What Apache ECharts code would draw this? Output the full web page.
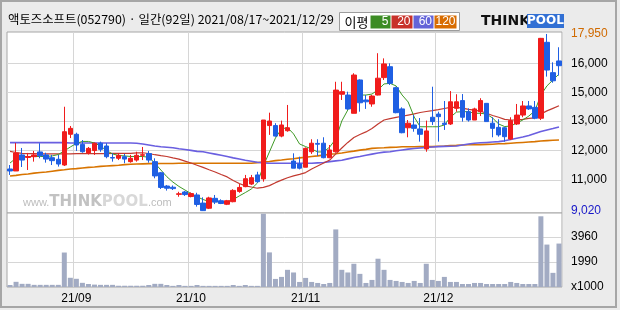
<!DOCTYPE html>
<html>
<head>
<meta charset="utf-8">
<script src="https://cdn.jsdelivr.net/npm/echarts@6/dist/echarts.min.js"></script>
<style>
html, body { margin: 0; padding: 0; background: #ebebeb; }
#chart { width: 620px; height: 310px; }
</style>
</head>
<body>
<div id="chart"></div>
<script>
// 거래일 2021/08/17 ~ 2021/12/29 (92일)
var tradeMonths = ['08', '09', '10', '11', '12'];
var tradeDays = [
    [17, 18, 19, 20, 23, 24, 25, 26, 27, 30, 31],
    [1, 2, 3, 6, 7, 8, 9, 10, 13, 14, 15, 16, 17, 23, 24, 27, 28, 29, 30],
    [1, 5, 6, 7, 8, 12, 13, 14, 15, 18, 19, 20, 21, 22, 25, 26, 27, 28, 29],
    [1, 2, 3, 4, 5, 8, 9, 10, 11, 12, 15, 16, 17, 18, 19, 22, 23, 24, 25, 26, 29, 30],
    [1, 2, 3, 6, 7, 8, 9, 10, 13, 14, 15, 16, 17, 20, 21, 22, 23, 24, 27, 28, 29]
];

var opens = [11140, 11040, 11850, 11720, 11760, 12000, 11850, 11710, 11630, 11340,
    12890, 12890, 12380, 11950, 12070, 12440, 12300, 11720, 11680, 11760,
    11510, 11590, 11830, 11920, 11510, 10950, 10280, 10220, 9860, 9980,
    9750, 9830, 9420, 9160, 9660, 9540, 9360, 9490, 10010, 10250,
    10380, 10840, 10640, 13330, 13330, 12800, 13070, 11540, 11390, 11230,
    12010, 12430, 12440, 11710, 12010, 14910, 14870, 13950, 15630, 14620,
    14420, 14870, 15750, 16300, 15240, 14170, 13220, 13360, 13160, 12150,
    13750, 13910, 13450, 13410, 14200, 14590, 14030, 13610, 14030, 14450,
    13450, 13240, 13220, 12650, 13410, 13860, 14320, 14250, 13700, 17530,
    16000, 16590];
var closes = [11040, 11950, 11590, 11770, 11850, 11810, 11640, 11560, 11390, 13020,
    13190, 12350, 12010, 12180, 12440, 12130, 11760, 11690, 11830, 11640,
    11680, 11830, 11860, 11590, 10790, 10210, 10170, 10150, 9890, 9850,
    9900, 9350, 9040, 9680, 9470, 9400, 9540, 10060, 10210, 10650,
    10700, 10500, 13610, 13560, 12800, 13360, 13220, 11180, 11180, 12180,
    12440, 12390, 11710, 12100, 15120, 15040, 14170, 15880, 14480, 14530,
    14820, 15720, 16440, 15460, 13980, 12970, 13450, 13190, 12890, 13060,
    13530, 13780, 13390, 14530, 14530, 13750, 13610, 14170, 14590, 13530,
    13190, 12860, 12770, 13580, 13860, 14320, 14170, 13700, 17730, 16130,
    15590, 16350];
var lows = [10840, 11040, 11240, 11090, 11510, 11680, 11460, 11340, 11260, 11290,
    12700, 12050, 11960, 11870, 11850, 12010, 11680, 11510, 11590, 11430,
    11460, 11510, 11590, 11460, 10670, 10130, 10050, 10080, 9740, 9780,
    9710, 9240, 9020, 9120, 9370, 9370, 9320, 9460, 9940, 10220,
    10330, 10450, 10500, 12860, 12770, 12740, 13020, 11180, 11120, 11230,
    11900, 11800, 11680, 11680, 11960, 14620, 14120, 13950, 14030, 14170,
    14280, 14850, 15630, 15380, 13950, 12940, 12740, 13020, 12520, 12010,
    13360, 12520, 13110, 13360, 14030, 13530, 13530, 13610, 13810, 13530,
    12740, 12770, 12520, 12600, 13360, 13750, 14120, 13650, 13610, 15800,
    15490, 15850];
var highs = [11340, 12450, 12200, 11950, 12050, 12440, 11960, 11850, 11850, 14280,
    13310, 12970, 12600, 12250, 12470, 12520, 12440, 11930, 11930, 11900,
    11850, 12010, 12250, 12050, 11680, 10990, 10330, 10310, 9990, 10030,
    9960, 9940, 9710, 9740, 9830, 9610, 9580, 10120, 10380, 10840,
    10840, 11000, 13610, 13980, 13450, 13580, 14370, 11930, 11760, 12230,
    12640, 12640, 12740, 12350, 15540, 15540, 15040, 15970, 15660, 14870,
    14870, 16980, 16720, 16470, 15290, 14250, 13610, 13860, 13710, 13580,
    15290, 14030, 14570, 15070, 14910, 14920, 14200, 14230, 14710, 14470,
    13750, 13650, 13270, 13750, 14420, 14570, 14570, 14570, 17750, 17950,
    16520, 17280];
// 거래량 (x1000)
var volumes = [160, 410, 250, 250, 170, 170, 170, 170, 170, 2730,
    730, 650, 330, 240, 190, 170, 170, 170, 100, 100,
    100, 100, 100, 160, 250, 250, 160, 90, 160, 90,
    90, 160, 90, 90, 90, 90, 90, 160, 90, 160,
    90, 90, 5800, 2740, 640, 800, 1360, 1150, 400, 720,
    400, 320, 240, 320, 4560, 1360, 1150, 1840, 1040, 320,
    560, 2240, 1360, 560, 480, 400, 320, 480, 320, 1840,
    560, 480, 800, 400, 400, 240, 240, 320, 320, 240,
    240, 240, 240, 400, 320, 240, 240, 240, 5600, 3360,
    1120, 3440];

// 이동평균
var ma5 = [11440, 11690, 11770, 11770, 11770, 11770, 11770, 11800, 11870, 12050,
    12250, 12430, 12530, 12530, 12450, 12300, 12070, 11900, 11820, 11800,
    11770, 11770, 11770, 11730, 11440, 11090, 10750, 10480, 10260, 10080,
    9900, 9740, 9600, 9500, 9490, 9490, 9490, 9600, 9780, 9950,
    10130, 10430, 11290, 12000, 12700, 13160, 13230, 12910, 12400, 12270,
    12150, 12000, 12000, 12250, 12650, 13560, 14120, 14770, 14870, 14870,
    14920, 15130, 15430, 15460, 15330, 14870, 14520, 13760, 13270, 13270,
    13270, 13270, 13360, 13750, 14010, 14030, 14030, 13950, 13950, 13910,
    13710, 13410, 13280, 13310, 13460, 13610, 13810, 14070, 14870, 15330,
    15630, 15930];
var ma20 = [12030, 11970, 11930, 11920, 11910, 11900, 11900, 11900, 11900, 11900,
    11900, 11910, 11910, 11910, 11910, 11910, 11910, 11930, 11930, 11930,
    11930, 11950, 11960, 11920, 11860, 11810, 11770, 11700, 11640, 11540,
    11440, 11330, 11220, 11100, 10990, 10860, 10740, 10560, 10410, 10290,
    10230, 10170, 10210, 10300, 10450, 10580, 10700, 10790, 10870, 10960,
    11140, 11290, 11440, 11590, 11900, 12200, 12480, 12730, 12880, 13010,
    13180, 13410, 13610, 13680, 13740, 13800, 13860, 13920, 13990, 14040,
    14080, 14130, 14190, 14250, 14250, 14210, 14150, 14110, 14050, 13950,
    13840, 13750, 13640, 13610, 13610, 13640, 13690, 13720, 13910, 14070,
    14200, 14330];
var ma60 = [12470, 12470, 12470, 12470, 12470, 12470, 12470, 12470, 12470, 12470,
    12450, 12450, 12450, 12450, 12450, 12450, 12450, 12450, 12450, 12450,
    12450, 12440, 12400, 12350, 12300, 12260, 12240, 12210, 12160, 12120,
    12080, 12030, 12010, 11950, 11890, 11830, 11770, 11700, 11640, 11580,
    11530, 11480, 11450, 11430, 11430, 11430, 11430, 11430, 11430, 11430,
    11430, 11450, 11470, 11510, 11550, 11580, 11650, 11720, 11770, 11830,
    11890, 11950, 11990, 12010, 12060, 12100, 12140, 12170, 12200, 12230,
    12250, 12270, 12280, 12290, 12300, 12350, 12400, 12440, 12460, 12480,
    12500, 12520, 12560, 12630, 12690, 12750, 12830, 12930, 13030, 13110,
    13180, 13260];
var ma120 = [10790, 10820, 10860, 10890, 10930, 10960, 10990, 11030, 11070, 11100,
    11140, 11160, 11190, 11220, 11240, 11270, 11290, 11310, 11330, 11360,
    11380, 11390, 11400, 11410, 11410, 11420, 11420, 11420, 11430, 11430,
    11430, 11430, 11430, 11430, 11430, 11430, 11430, 11430, 11430, 11430,
    11430, 11460, 11490, 11520, 11560, 11590, 11630, 11660, 11700, 11730,
    11770, 11800, 11840, 11880, 11910, 11950, 12000, 12040, 12090, 12130,
    12180, 12200, 12210, 12230, 12240, 12260, 12260, 12260, 12270, 12270,
    12270, 12290, 12300, 12320, 12330, 12350, 12360, 12360, 12370, 12380,
    12390, 12410, 12420, 12440, 12460, 12480, 12500, 12520, 12550, 12570,
    12590, 12600];

// 가격축 눈금
var priceGridValues = [10585, 12063, 13561, 15009, 16472];
var priceLabelValues = [9020, 10585, 12063, 13561, 15009, 16472, 17950];
var priceLabelTexts = ['9,020', '11,000', '12,000', '13,000', '15,000', '16,000', '17,950'];
var volGridValues = [1990, 3960];
var volLabelValues = [0, 1990, 3960];
var volLabelTexts = ['x1000', '1990', '3960'];

var LABEL_FONT = 'Liberation Sans';
var KR_FONT = 'Noto Sans CJK KR';

var dates = [];
var monthStart = [];
tradeMonths.forEach(function (m, k) {
    tradeDays[k].forEach(function (d, j) {
        dates.push('2021/' + m + '/' + (d < 10 ? '0' + d : d));
        monthStart.push(j === 0 && k > 0);
    });
});

var candleData = opens.map(function (o, i) {
    return [o, closes[i], lows[i], highs[i]];
});

function pickLabel(values, v) {
    var best = 0;
    for (var i = 1; i < values.length; i++) {
        if (Math.abs(values[i] - v) < Math.abs(values[best] - v)) best = i;
    }
    return best;
}

function maLine(name, data, color, width) {
    return {
        name: name, type: 'line', data: data,
        xAxisIndex: 0, yAxisIndex: 0,
        showSymbol: false, silent: true, z: 3,
        lineStyle: { color: color, width: width }
    };
}

var chart = echarts.init(document.getElementById('chart'));

var gridLine = { color: '#d6d6d6', width: 1 };

chart.setOption({
    animation: false,
    backgroundColor: '#ebebeb',
    grid: [
        { left: 7, top: 32, width: 555, height: 181, show: true, backgroundColor: '#fff', borderColor: '#a6a6a6', borderWidth: 1 },
        { left: 7, top: 213, width: 555, height: 74, show: true, backgroundColor: '#fff', borderColor: '#a6a6a6', borderWidth: 1 }
    ],
    xAxis: [
        {
            type: 'category', gridIndex: 0, data: dates, boundaryGap: true,
            axisLine: { show: false }, axisTick: { show: false }, axisLabel: { show: false },
            splitLine: { show: true, interval: function (i) { return monthStart[i]; }, lineStyle: gridLine }
        },
        {
            type: 'category', gridIndex: 1, data: dates, boundaryGap: true,
            axisLine: { show: false }, axisTick: { show: false },
            splitLine: { show: true, interval: function (i) { return monthStart[i]; }, lineStyle: gridLine },
            axisLabel: {
                interval: function (i) { return monthStart[i]; },
                formatter: function (v) { return '21/' + v.slice(5, 7); },
                color: '#000', fontSize: 12, fontFamily: LABEL_FONT, margin: 6
            }
        }
    ],
    yAxis: [
        {
            type: 'value', gridIndex: 0, position: 'right', min: 8920, max: 18050,
            axisLine: { show: false },
            axisTick: { show: false, customValues: priceGridValues },
            splitLine: { show: true, lineStyle: gridLine },
            axisLabel: {
                customValues: priceLabelValues,
                margin: 9, color: '#000', fontSize: 12, fontFamily: LABEL_FONT,
                formatter: function (v) {
                    var i = pickLabel(priceLabelValues, v);
                    if (i === 0) return '{lo|' + priceLabelTexts[i] + '}';
                    if (i === priceLabelTexts.length - 1) return '{hi|' + priceLabelTexts[i] + '}';
                    return priceLabelTexts[i];
                },
                rich: {
                    lo: { color: '#1818c8', fontSize: 12, fontFamily: LABEL_FONT },
                    hi: { color: '#d06a00', fontSize: 12, fontFamily: LABEL_FONT }
                }
            }
        },
        {
            type: 'value', gridIndex: 1, position: 'right', min: 0, max: 5860,
            axisLine: { show: false },
            axisTick: { show: false, customValues: volGridValues },
            splitLine: { show: true, lineStyle: gridLine },
            axisLabel: {
                customValues: volLabelValues,
                margin: 9, color: '#000', fontSize: 12, fontFamily: LABEL_FONT,
                formatter: function (v) {
                    return volLabelTexts[pickLabel(volLabelValues, v)];
                }
            }
        }
    ],
    series: [
        maLine('120', ma120, '#d87400', 1.6),
        maLine('60', ma60, '#6a5fe0', 1.6),
        maLine('20', ma20, '#c23a30', 1.2),
        maLine('5', ma5, '#3f9a26', 1),
        {
            name: '일간', type: 'candlestick', data: candleData,
            xAxisIndex: 0, yAxisIndex: 0, barWidth: 5, z: 4,
            itemStyle: {
                color: '#f01c1c', color0: '#1f5fe3',
                borderColor: '#f01c1c', borderColor0: '#1f5fe3', borderWidth: 1
            }
        },
        {
            name: '거래량', type: 'bar', data: volumes,
            xAxisIndex: 1, yAxisIndex: 1, barWidth: 5,
            itemStyle: { color: '#a2abc3' }
        }
    ],
    graphic: [
        {
            type: 'rect', z: 10, silent: true,
            shape: { x: 1, y: 1, width: 615, height: 306 },
            style: { fill: null, stroke: '#a6a6a6', lineWidth: 2 }
        },
        {
            type: 'text', left: 8, top: 13,
            style: { text: '액토즈소프트(052790) · 일간(92일) 2021/08/17~2021/12/29', fontSize: 12.4, fontFamily: KR_FONT, fill: '#000' }
        },
        {
            type: 'group', left: 339, top: 12,
            children: [
                { type: 'rect', shape: { x: 0, y: 0, width: 120, height: 18 }, style: { fill: '#fff', stroke: '#9c9c9c', lineWidth: 1 } },
                { type: 'text', style: { x: 5, y: 9.5, text: '이평', fontSize: 13, fontFamily: KR_FONT, fill: '#000', verticalAlign: 'middle' } },
                { type: 'rect', shape: { x: 31, y: 3, width: 20, height: 13 }, style: { fill: '#3c8c24' } },
                { type: 'text', style: { x: 49, y: 9.5, text: '5', fontSize: 12, fontFamily: LABEL_FONT, fill: '#fff', align: 'right', verticalAlign: 'middle' } },
                { type: 'rect', shape: { x: 52, y: 3, width: 21, height: 13 }, style: { fill: '#c8322a' } },
                { type: 'text', style: { x: 71, y: 9.5, text: '20', fontSize: 12, fontFamily: LABEL_FONT, fill: '#fff', align: 'right', verticalAlign: 'middle' } },
                { type: 'rect', shape: { x: 74, y: 3, width: 20, height: 13 }, style: { fill: '#6464d8' } },
                { type: 'text', style: { x: 92.5, y: 9.5, text: '60', fontSize: 12, fontFamily: LABEL_FONT, fill: '#fff', align: 'right', verticalAlign: 'middle' } },
                { type: 'rect', shape: { x: 95, y: 3, width: 22, height: 13 }, style: { fill: '#d86c00' } },
                { type: 'text', style: { x: 116, y: 9.5, text: '120', fontSize: 12, fontFamily: LABEL_FONT, fill: '#fff', align: 'right', verticalAlign: 'middle' } }
            ]
        },
        {
            type: 'group', left: 481, top: 14,
            children: [
                { type: 'text', style: { x: 0, y: 7, text: 'THINK', fontSize: 14, fontWeight: 'bold', fontFamily: 'DejaVu Sans', fill: '#111', verticalAlign: 'middle' } },
                { type: 'rect', shape: { x: 46, y: 0, width: 37, height: 14 }, style: { fill: '#3270d4' } },
                { type: 'text', style: { x: 64.5, y: 7, text: 'POOL', fontSize: 12, fontWeight: 'bold', fontFamily: 'DejaVu Sans', fill: '#fff', align: 'center', verticalAlign: 'middle' } }
            ]
        },
        {
            type: 'text', left: 23, top: 195, z: 1, silent: true,
            style: {
                text: '{a|www.}{b|THINK}{c|POOL}{a|.com}',
                rich: {
                    a: { fontSize: 11, fontFamily: LABEL_FONT, fill: '#bdbdbd' },
                    b: { fontSize: 15, fontWeight: 'bold', fontFamily: 'DejaVu Sans', fill: '#c2c2c2' },
                    c: { fontSize: 15, fontWeight: 'bold', fontFamily: 'DejaVu Sans', fill: '#d8d8d8' }
                }
            }
        }
    ]
});
</script>
</body>
</html>
